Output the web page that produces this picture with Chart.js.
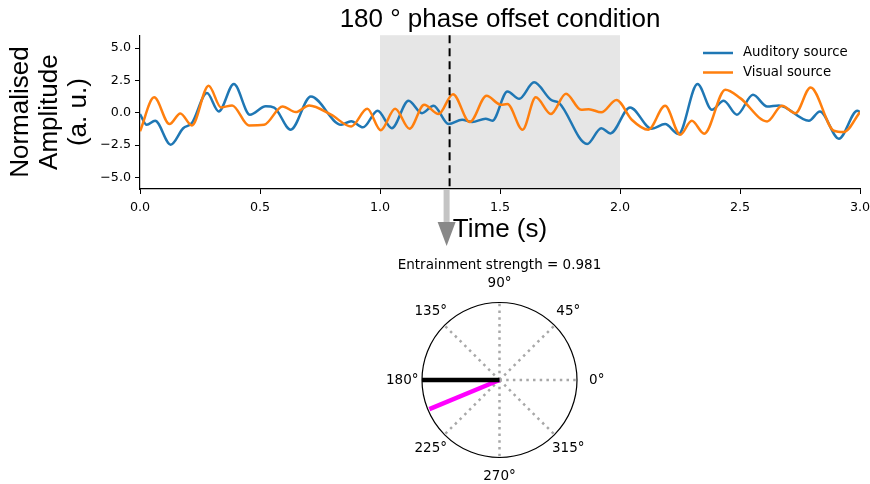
<!DOCTYPE html>
<html>
<head>
<meta charset="utf-8">
<script src="https://cdn.jsdelivr.net/npm/chart.js@4.4.1/dist/chart.umd.min.js"></script>
<style>
  body { margin: 0; background: #fff; }
  #wrap { position: relative; width: 870px; height: 484px; }
  canvas { position: absolute; left: 0; }
  #timeChart { top: 0; }
  #phaseChart { top: 250px; }
</style>
</head>
<body>
<div id="wrap">
  <canvas id="timeChart" width="870" height="250"></canvas>
  <canvas id="phaseChart" width="870" height="234"></canvas>
</div>
<script>
//-----------------------------------------------------------------------------
// data
//-----------------------------------------------------------------------------
const chartTitle = '180 ° phase offset condition';
const seriesNames = ['Auditory source', 'Visual source'];

// auditory source (blue) : times in s and normalised amplitude
const auditoryTimes = [0.00, 0.028, 0.063, 0.128, 0.18, 0.216, 0.279, 0.328, 0.391, 0.458,
    0.524, 0.559, 0.628, 0.712, 0.838, 0.88, 0.929, 0.99, 1.049, 1.119,
    1.175, 1.223, 1.286, 1.342, 1.384, 1.44, 1.468, 1.531, 1.58, 1.642,
    1.712, 1.747, 1.863, 1.922, 1.96, 2.042, 2.132, 2.188, 2.244, 2.323,
    2.383, 2.432, 2.487, 2.554, 2.613, 2.662, 2.787, 2.833, 2.912, 2.989, 3.0];
const auditoryValues = [-0.1, -0.93, -0.62, -2.47, -1.2, -0.8, 1.52, 0.1, 2.22, -0.15,
    0.5, 0.4, -1.31, 1.26, -0.93, -0.65, -1.13, 0.15, -1.19, 0.93,
    -0.03, 0.54, -0.88, -0.54, -0.72, -0.46, -0.62, 1.65, 1.08, 2.35,
    1.0, 0.75, -2.42, -1.19, -1.6, 0.41, -1.24, -0.88, -1.65, 2.22,
    0.23, 0.93, -0.15, 1.39, 0.49, 0.57, -0.62, 0.1, -2.01, 0.15, 0.05];

// visual source (orange)
const visualTimes = [0.00, 0.059, 0.123, 0.168, 0.216, 0.286, 0.338, 0.384, 0.454, 0.517,
    0.594, 0.649, 0.705, 0.796, 0.88, 0.947, 1.003, 1.063, 1.123, 1.184,
    1.244, 1.304, 1.374, 1.444, 1.503, 1.531, 1.594, 1.649, 1.712, 1.775,
    1.838, 1.87, 1.922, 1.985, 2.049, 2.118, 2.188, 2.251, 2.299, 2.351,
    2.439, 2.501, 2.613, 2.675, 2.731, 2.794, 2.891, 2.933, 3.0];
const visualValues = [-1.44, 1.19, -0.88, -0.05, -0.98, 2.09, 0.41, 0.57, -0.98, -0.93,
    0.49, 0.05, 0.57, -0.15, -1.06, 0.31, -1.35, 0.31, -1.24, 0.62,
    -0.1, 1.44, -0.72, 1.31, 0.62, 0.67, -1.31, 1.19, -0.1, 1.47,
    0.23, 0.28, 0.03, 0.98, -0.54, -1.31, 0.54, -1.70, -0.62, -1.62,
    1.78, 1.13, -0.67, 0.54, -0.03, 1.96, -1.39, -1.49, 0.05];

const xTickValues = [0, 0.5, 1.0, 1.5, 2.0, 2.5, 3.0];
const yTickValues = [-5, -2.5, 0, 2.5, 5];
const offsetWindow = [1.0, 2.0];   // shaded stimulation window (s)
const markerTime = 1.29;           // dashed marker (s)

// polar panel
const strengthText = 'Entrainment strength = 0.981';
const gridAngles = [0, 45, 90, 135, 180, 225, 270, 315];
const vectorNames = ['Reference phase', 'Mean phase'];
const vectorAngles = [180, 202.7];
const vectorLengths = [1.0, 0.981];

const seriesColors = ['#1f77b4', '#ff7f0e'];
const vectorColors = ['#000000', '#ff00ff'];

Chart.defaults.font.family = '"DejaVu Sans"';
Chart.defaults.color = '#000';

const toPoints = (xs, ys) => xs.map((x, i) => ({ x: x, y: ys[i] }));
const minusSign = v => (v < 0 ? '\u2212' + Math.abs(v).toFixed(1) : v.toFixed(1));

//-----------------------------------------------------------------------------
//  shading, dashed marker, arrow and legend for the time series
//-----------------------------------------------------------------------------
const timeDecor = {
    id: 'timeDecor',
    beforeDraw(chart) {
        const { ctx, chartArea, scales } = chart;
        const x0 = scales.x.getPixelForValue(offsetWindow[0]);
        const x1 = scales.x.getPixelForValue(offsetWindow[1]);
        ctx.save();
        ctx.fillStyle = '#e6e6e6';
        ctx.fillRect(x0, chartArea.top, x1 - x0, chartArea.bottom - chartArea.top);
        ctx.restore();
    },
    afterDatasetsDraw(chart) {
        const { ctx, chartArea, scales } = chart;
        const xm = scales.x.getPixelForValue(markerTime);
        ctx.save();
        ctx.strokeStyle = '#000';
        ctx.lineWidth = 2;
        ctx.setLineDash([8, 5]);
        ctx.beginPath();
        ctx.moveTo(xm, chartArea.top);
        ctx.lineTo(xm, chartArea.bottom);
        ctx.stroke();
        ctx.restore();
    },
    afterDraw(chart) {
        const { ctx, chartArea, scales } = chart;
        // grey arrow pointing down to the polar panel
        const xa = scales.x.getPixelForValue(markerTime) - 3;
        ctx.save();
        ctx.fillStyle = '#c4c4c4';
        ctx.fillRect(xa - 3, chartArea.bottom + 1, 6, 222 - chartArea.bottom);
        ctx.fillStyle = '#888888';
        ctx.beginPath();
        ctx.moveTo(xa - 9, 222);
        ctx.lineTo(xa + 9, 222);
        ctx.lineTo(xa, 246);
        ctx.closePath();
        ctx.fill();

        // legend, top right inside the axes
        ctx.font = '13.3px "DejaVu Sans"';
        ctx.textBaseline = 'middle';
        chart.data.datasets.forEach((ds, i) => {
            const y = 53 + i * 19.5;
            ctx.strokeStyle = ds.borderColor;
            ctx.lineWidth = 2.5;
            ctx.beginPath();
            ctx.moveTo(703, y);
            ctx.lineTo(733, y);
            ctx.stroke();
            ctx.fillStyle = '#000';
            ctx.fillText(ds.label, 743, y);
        });
        ctx.restore();
    }
};

new Chart(document.getElementById('timeChart').getContext('2d'), {
    type: 'line',
    data: {
        datasets: [
            {
                label: seriesNames[0],
                data: toPoints(auditoryTimes, auditoryValues),
                borderColor: seriesColors[0],
                borderWidth: 2.5,
                pointRadius: 0,
                cubicInterpolationMode: 'monotone',
                order: 1
            },
            {
                label: seriesNames[1],
                data: toPoints(visualTimes, visualValues),
                borderColor: seriesColors[1],
                borderWidth: 2.5,
                pointRadius: 0,
                cubicInterpolationMode: 'monotone',
                order: 0
            }
        ]
    },
    options: {
        responsive: false,
        devicePixelRatio: 1,
        animation: false,
        layout: { padding: { left: 0, right: 10, top: 0, bottom: 0 } },
        plugins: {
            legend: { display: false },
            tooltip: { enabled: false },
            title: {
                display: true,
                text: chartTitle,
                fullSize: false,
                color: '#000',
                font: { family: '"Liberation Sans"', size: 26, weight: 'normal' },
                padding: { top: 4, bottom: 0 }
            }
        },
        scales: {
            x: {
                type: 'linear',
                min: 0,
                max: 3,
                afterBuildTicks: s => { s.ticks = xTickValues.map(v => ({ value: v })); },
                afterFit: s => { s.height = 61; s.paddingLeft = 0; s.paddingRight = 0; },
                ticks: {
                    callback: v => v.toFixed(1),
                    font: { size: 12.7 },
                    color: '#000',
                    padding: 6.5,
                    maxRotation: 0
                },
                grid: { drawOnChartArea: false, drawTicks: true, tickLength: 5, color: '#000', lineWidth: 1 },
                border: { display: true, color: '#000', width: 1.2 },
                title: {
                    display: true,
                    text: 'Time (s)',
                    color: '#000',
                    font: { family: '"Liberation Sans"', size: 26 },
                    padding: { top: 0, bottom: 5 }
                }
            },
            y: {
                type: 'linear',
                min: -5.9,
                max: 6.0,
                afterBuildTicks: s => { s.ticks = yTickValues.map(v => ({ value: v })); },
                afterFit: s => { s.width = 140; },
                ticks: {
                    callback: v => minusSign(v),
                    font: { size: 12.7 },
                    color: '#000',
                    padding: 4
                },
                grid: { drawOnChartArea: false, drawTicks: true, tickLength: 5, color: '#000', lineWidth: 1 },
                border: { display: true, color: '#000', width: 1.2 },
                title: {
                    display: true,
                    text: ['Normalised', 'Amplitude', '(a. u.)'],
                    color: '#000',
                    font: { family: '"Liberation Sans"', size: 26, lineHeight: 1.1 },
                    padding: { top: 7, bottom: 0 }
                }
            }
        }
    },
    plugins: [timeDecor]
});

//-----------------------------------------------------------------------------
//  polar panel: circle, dotted spokes, angle labels and strength title
//-----------------------------------------------------------------------------
const rad = d => d * Math.PI / 180;

const polarDecor = {
    id: 'polarDecor',
    beforeDatasetsDraw(chart) {
        const { ctx, scales } = chart;
        const cx = scales.x.getPixelForValue(0);
        const cy = scales.y.getPixelForValue(0);
        const r = scales.x.getPixelForValue(1) - cx;
        ctx.save();
        ctx.strokeStyle = '#a8a8a8';
        ctx.lineWidth = 2.5;
        ctx.setLineDash([2.5, 4.2]);
        gridAngles.forEach(a => {
            ctx.beginPath();
            ctx.moveTo(cx, cy);
            ctx.lineTo(scales.x.getPixelForValue(Math.cos(rad(a))),
                       scales.y.getPixelForValue(Math.sin(rad(a))));
            ctx.stroke();
        });
        ctx.setLineDash([]);
        ctx.strokeStyle = '#000';
        ctx.lineWidth = 1.2;
        ctx.beginPath();
        ctx.arc(cx, cy, r, 0, Math.PI * 2);
        ctx.stroke();
        ctx.restore();
    },
    afterDraw(chart) {
        const { ctx, scales, chartArea } = chart;
        const cx = scales.x.getPixelForValue(0);
        ctx.save();
        ctx.fillStyle = '#000';
        ctx.textAlign = 'center';
        ctx.textBaseline = 'middle';
        ctx.font = '13.5px "DejaVu Sans"';
        gridAngles.forEach(a => {
            const lx = scales.x.getPixelForValue(1.255 * Math.cos(rad(a)));
            const ly = scales.y.getPixelForValue(1.255 * Math.sin(rad(a)));
            ctx.fillText(a + '°', lx, ly);
        });
        ctx.fillText(strengthText, cx, chartArea.top - 38);
        ctx.restore();
    }
};

new Chart(document.getElementById('phaseChart').getContext('2d'), {
    type: 'scatter',
    data: {
        datasets: vectorNames.map((name, i) => ({
            label: name,
            data: [
                { x: 0, y: 0 },
                { x: vectorLengths[i] * Math.cos(rad(vectorAngles[i])),
                  y: vectorLengths[i] * Math.sin(rad(vectorAngles[i])) }
            ],
            showLine: true,
            borderColor: vectorColors[i],
            borderWidth: 4.5,
            pointRadius: 0,
            clip: false
        }))
    },
    options: {
        responsive: false,
        devicePixelRatio: 1,
        animation: false,
        layout: { padding: { left: 422, right: 293, top: 53, bottom: 27 } },
        plugins: {
            legend: { display: false },
            tooltip: { enabled: false }
        },
        scales: {
            x: { type: 'linear', min: -1, max: 1, display: false },
            y: { type: 'linear', min: -1, max: 1, display: false }
        }
    },
    plugins: [polarDecor]
});
</script>
</body>
</html>
